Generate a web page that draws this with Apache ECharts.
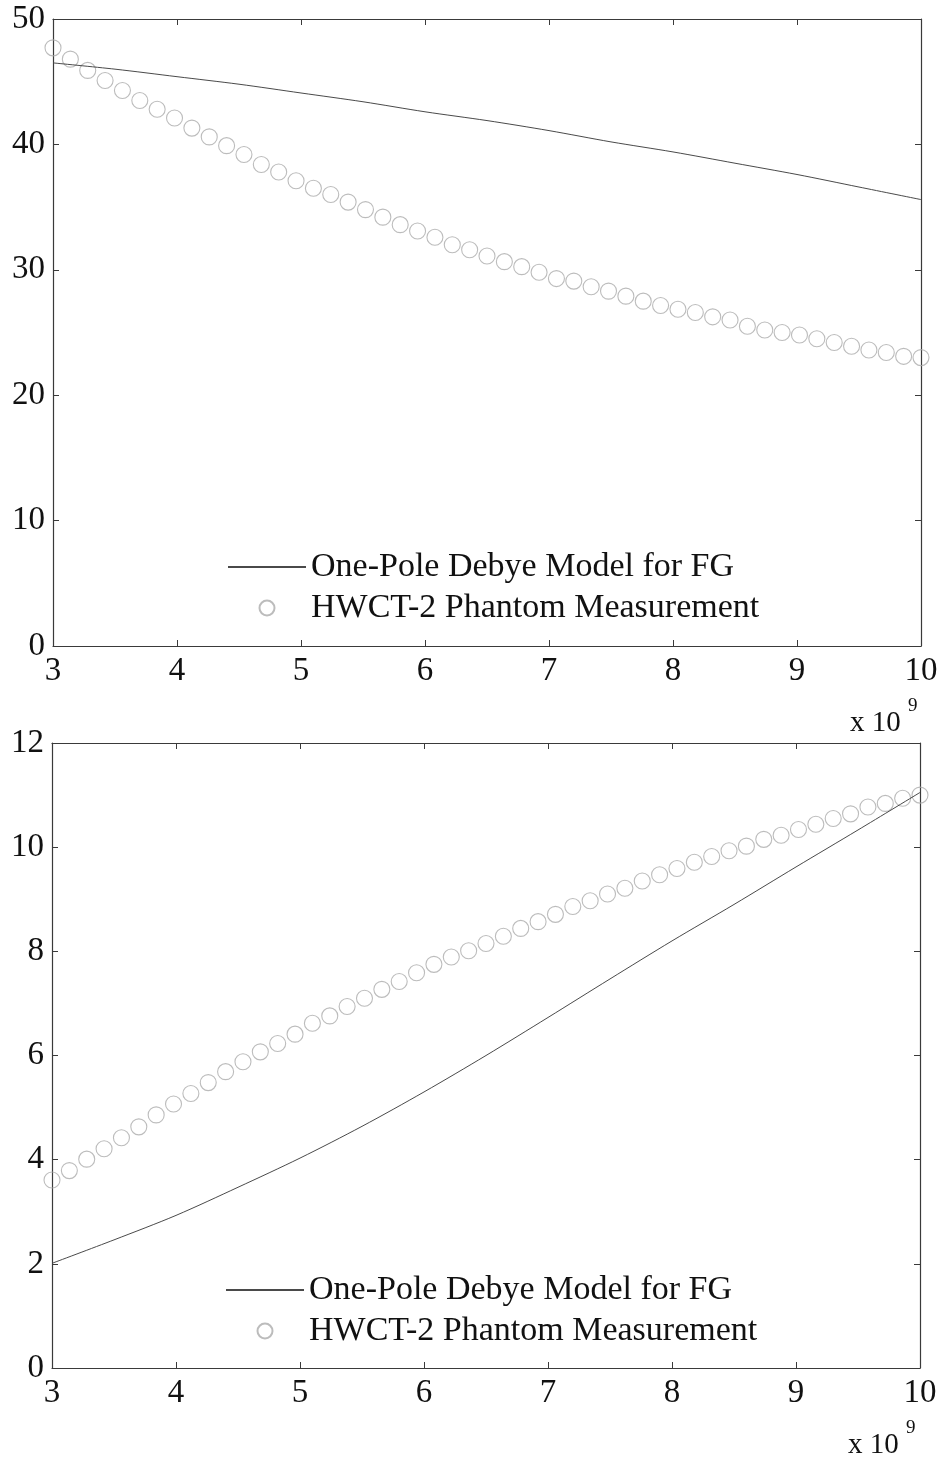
<!DOCTYPE html>
<html>
<head>
<meta charset="utf-8">
<script src="https://cdn.jsdelivr.net/npm/echarts@6/dist/echarts.min.js"></script>
<style>
  html, body { margin: 0; padding: 0; background: #fff; }
  #chart { width: 943px; height: 1459px; }
</style>
</head>
<body>
<div id="chart"></div>
<script>
// frequency (x 10^9 Hz) of the measured points
const freq = [
  3.00, 3.14, 3.28, 3.42, 3.56, 3.70, 3.84, 3.98, 4.12, 4.26, 4.40, 4.54, 4.68,
  4.82, 4.96, 5.10, 5.24, 5.38, 5.52, 5.66, 5.80, 5.94, 6.08, 6.22, 6.36, 6.50,
  6.64, 6.78, 6.92, 7.06, 7.20, 7.34, 7.48, 7.62, 7.76, 7.90, 8.04, 8.18, 8.32,
  8.46, 8.60, 8.74, 8.88, 9.02, 9.16, 9.30, 9.44, 9.58, 9.72, 9.86, 10.00,
];
// frequency of the model curve samples
const modelFreq = [3, 3.5, 4, 4.5, 5, 5.5, 6, 6.5, 7, 7.5, 8, 8.5, 9, 9.5, 10];

// upper panel
const topMeasured = [
  47.7, 46.8, 45.9, 45.1, 44.3, 43.5, 42.8, 42.1, 41.3, 40.6, 39.9, 39.2, 38.4,
  37.8, 37.1, 36.5, 36.0, 35.4, 34.8, 34.2, 33.6, 33.1, 32.6, 32.0, 31.6, 31.1,
  30.65, 30.25, 29.8, 29.3, 29.1, 28.65, 28.3, 27.9, 27.5, 27.15, 26.85, 26.6,
  26.25, 26.0, 25.5, 25.2, 25.0, 24.8, 24.5, 24.2, 23.9, 23.6, 23.4, 23.1, 23.0,
];
const topModel = [46.5, 46.0, 45.4, 44.8, 44.1, 43.4, 42.6, 41.9, 41.1, 40.2, 39.4, 38.5, 37.6, 36.6, 35.6];

// lower panel
const bottomMeasured = [
  3.61, 3.79, 4.01, 4.21, 4.42, 4.63, 4.86, 5.07, 5.27, 5.48, 5.69, 5.88, 6.07,
  6.23, 6.41, 6.62, 6.76, 6.94, 7.10, 7.27, 7.42, 7.59, 7.75, 7.89, 8.01, 8.15,
  8.29, 8.44, 8.57, 8.71, 8.86, 8.97, 9.10, 9.21, 9.35, 9.47, 9.59, 9.71, 9.82,
  9.93, 10.02, 10.15, 10.23, 10.34, 10.44, 10.55, 10.64, 10.77, 10.84, 10.94, 11.00,
];
const bottomModel = [2.01, 2.46, 2.93, 3.47, 4.03, 4.64, 5.30, 6.00, 6.73, 7.47, 8.20, 8.90, 9.62, 10.33, 11.05];

const xTicks = { min: 3, max: 10, interval: 1 };
const topTicks = { min: 0, max: 50, interval: 10 };
const bottomTicks = { min: 0, max: 12, interval: 2 };

const legendNames = ['One-Pole Debye Model for FG', 'HWCT-2 Phantom Measurement'];

const FONT = '"Liberation Serif", "DejaVu Serif", serif';
const AXIS_COLOR = '#3a3a3a';
const LINE_COLOR = '#4a4a4a';
const MARK_COLOR = '#ababab';

function pairs(xs, ys) {
  return xs.map((x, i) => [x, ys[i]]);
}

const grids = [
  { left: 53, top: 19, right: 22, height: 627 },
  { left: 52, top: 743, right: 23, height: 625 },
];

function axisBase(range, showLabel, position, gridIndex) {
  return {
    type: 'value',
    gridIndex: gridIndex,
    position: position,
    min: range.min,
    max: range.max,
    interval: range.interval,
    axisLine: { show: true, onZero: false, lineStyle: { color: AXIS_COLOR, width: 1.2 } },
    axisTick: { show: true, inside: true, length: 6, lineStyle: { color: AXIS_COLOR, width: 1 } },
    splitLine: { show: false },
    axisLabel: {
      show: showLabel,
      color: '#111',
      fontFamily: FONT,
      fontSize: 33,
      margin: 8,
    },
  };
}

const xAxis = [];
const yAxis = [];
[topTicks, bottomTicks].forEach((yr, g) => {
  xAxis.push(axisBase(xTicks, true, 'bottom', g));
  xAxis.push(axisBase(xTicks, false, 'top', g));
  yAxis.push(axisBase(yr, true, 'left', g));
  yAxis.push(axisBase(yr, false, 'right', g));
});
xAxis[0].axisLabel.margin = 9;
xAxis[2].axisLabel.margin = 9;

function panelSeries(g, model, measured) {
  return [
    {
      name: legendNames[0],
      type: 'line',
      xAxisIndex: g * 2,
      yAxisIndex: g * 2,
      data: pairs(modelFreq, model),
      symbol: 'none',
      smooth: 0.3,
      lineStyle: { color: LINE_COLOR, width: 1 },
      itemStyle: { color: LINE_COLOR },
      z: 3,
    },
    {
      name: legendNames[1],
      type: 'scatter',
      xAxisIndex: g * 2,
      yAxisIndex: g * 2,
      data: pairs(freq, measured),
      symbol: 'circle',
      symbolSize: 16,
      itemStyle: { color: 'rgba(0,0,0,0)', borderColor: MARK_COLOR, borderWidth: 1.1 },
      z: 2,
    },
  ];
}

function legendAt(left, top) {
  return {
    orient: 'vertical',
    left: left,
    top: top,
    data: [
      // line only, no dot in the middle
      { name: legendNames[0], itemStyle: { color: 'rgba(0,0,0,0)', borderWidth: 0, opacity: 0 } },
      { name: legendNames[1] },
    ],
    itemWidth: 78,
    itemHeight: 15,
    itemGap: 7,
    selectedMode: false,
    textStyle: {
      fontFamily: FONT,
      fontSize: 34,
      lineHeight: 34,
      color: '#111',
    },
  };
}

function expLabel(x, y) {
  return [
    {
      type: 'text',
      left: x,
      top: y + 12,
      style: { text: 'x 10', font: '29px ' + FONT, fill: '#111' },
    },
    {
      type: 'text',
      left: x + 58,
      top: y,
      style: { text: '9', font: '19px ' + FONT, fill: '#111' },
    },
  ];
}

const chart = echarts.init(document.getElementById('chart'), null, { renderer: 'canvas' });
chart.setOption({
  backgroundColor: '#fff',
  animation: false,
  grid: grids,
  xAxis: xAxis,
  yAxis: yAxis,
  legend: [legendAt(222, 545), legendAt(220, 1268)],
  series: [
    ...panelSeries(0, topModel, topMeasured),
    ...panelSeries(1, bottomModel, bottomMeasured),
  ],
  graphic: [...expLabel(850, 697), ...expLabel(848, 1419)],
});
</script>
</body>
</html>
